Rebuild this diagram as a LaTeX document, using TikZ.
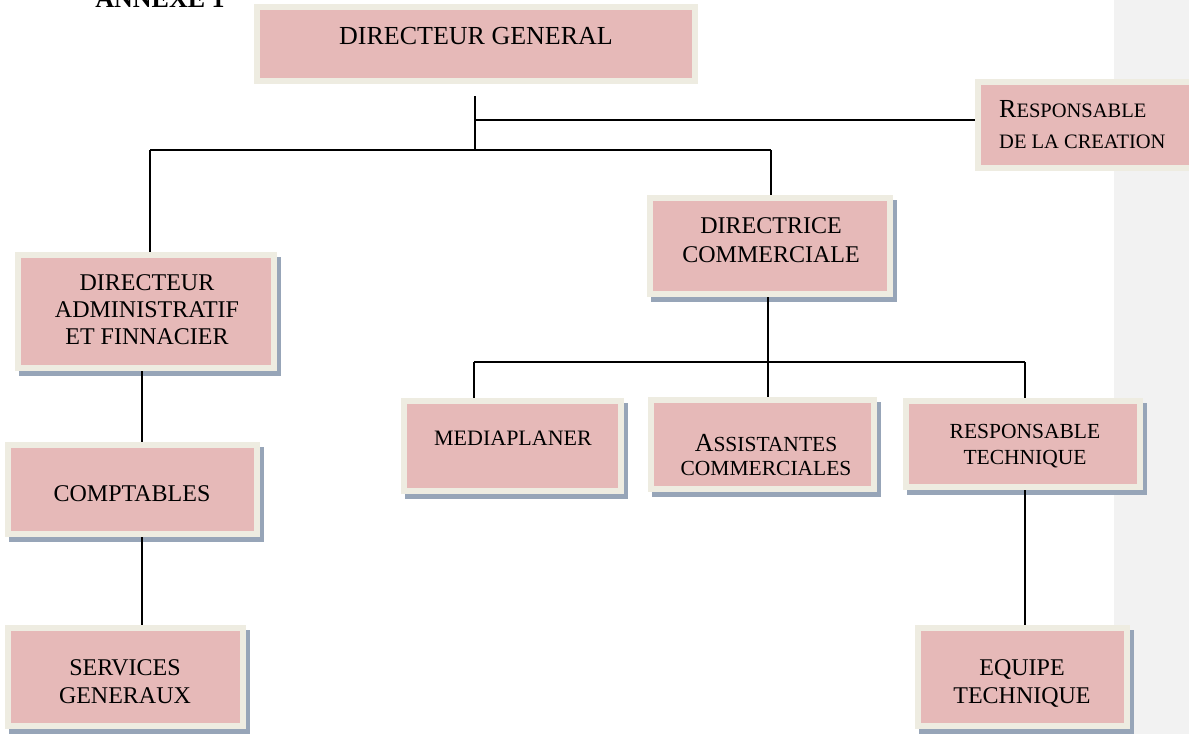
\documentclass[tikz,border=0pt]{standalone}
\usepackage{fontspec}
\setmainfont{Liberation Serif}
\definecolor{boxpink}{HTML}{E6B9B8}
\definecolor{boxcream}{HTML}{EEECE1}
\definecolor{boxshadow}{HTML}{97A5B8}
\definecolor{bandgrey}{HTML}{F2F2F2}
\newcommand{\fs}[2]{\fontsize{#1}{#2}\selectfont}
\begin{document}
\begin{tikzpicture}[x=1pt,y=-1pt,
  orgbox/.style={draw=boxcream, fill=boxpink, line width=6pt, inner sep=0pt, outer sep=3pt},
  shadowed/.style={preaction={draw=boxshadow, fill=boxshadow, line width=6pt,
      transform canvas={xshift=4pt,yshift=-5pt}}},
  lbl/.style={inner sep=0pt, align=center, anchor=north, text=black},
  conn/.style={draw=black, line width=1.2pt}]
\useasboundingbox (0,0) rectangle (1189,734);
\clip (0,0) rectangle (1189,734);
\fill[bandgrey] (1114,0) rectangle (1189,734);
\node[font=\bfseries\fs{26}{30}, anchor=base, inner sep=0pt] (annexe) at (160,7) {ANNEXE 1};
% boxes
\node[orgbox, minimum width=438pt, minimum height=74pt] (DG) at (476,44) {};
\node[orgbox, minimum width=219pt, minimum height=86pt] (RC) at (1087.5,125) {};
\node[orgbox, shadowed, minimum width=256pt, minimum height=113pt] (DAF) at (146,311.5) {};
\node[orgbox, shadowed, minimum width=249pt, minimum height=89pt] (COMP) at (132.5,489.5) {};
\node[orgbox, shadowed, minimum width=235pt, minimum height=98pt] (SG) at (125.5,677) {};
\node[orgbox, shadowed, minimum width=240pt, minimum height=96pt] (DC) at (770,246) {};
\node[orgbox, shadowed, minimum width=217pt, minimum height=90pt] (MED) at (512.5,446) {};
\node[orgbox, shadowed, minimum width=223pt, minimum height=89pt] (ASS) at (762.5,444.5) {};
\node[orgbox, shadowed, minimum width=234pt, minimum height=86pt] (RT) at (1023,444) {};
\node[orgbox, shadowed, minimum width=209pt, minimum height=98pt] (EQ) at (1022.5,677) {};
% labels
\node[lbl, font=\fs{26}{30}] (tDG) at (476,27) {DIRECTEUR GENERAL};
\node[lbl, align=left, anchor=north west, font=\fs{20.5}{31}] (tRC) at (999,100)
  {{\fs{26}{31}R}ESPONSABLE\\DE LA CREATION};
\node[lbl, font=\fs{24}{27}] (tDAF) at (147,274.3) {DIRECTEUR\\ADMINISTRATIF\\ET FINNACIER};
\node[lbl, font=\fs{24}{28}] (tCOMP) at (132,485.3) {COMPTABLES};
\node[lbl, font=\fs{24}{28}] (tSG) at (125,659.3) {SERVICES\\GENERAUX};
\node[lbl, font=\fs{24}{29}] (tDC) at (771,217.3) {DIRECTRICE\\COMMERCIALE};
\node[lbl, font=\fs{22}{26}] (tMED) at (513,430.6) {MEDIAPLANER};
\node[lbl, font=\fs{21.5}{24}] (tASS) at (766,434) {{\fs{26}{24}A}SSISTANTES\\COMMERCIALES};
\node[lbl, font=\fs{21.5}{26}] (tRT) at (1025,423.9) {RESPONSABLE\\TECHNIQUE};
\node[lbl, font=\fs{24}{28}] (tEQ) at (1022,659.3) {EQUIPE\\TECHNIQUE};
% connector points
\coordinate (c0) at (475,96);
\coordinate (j1) at (475,120);
\coordinate (j2) at (475,150);
\coordinate (jL) at (150,150);
\coordinate (jR) at (771,150);
\coordinate (xl) at (142,0);
\coordinate (jm) at (768,362);
\coordinate (ja) at (474,362);
\coordinate (jb) at (1025,362);
\coordinate (xr) at (1025,0);
% connectors
\draw[conn] (c0) -- (j2);
\draw[conn] (j1) -- (j1 -| RC.west);
\draw[conn] (jL) -- (jR);
\draw[conn] (jL) -- (jL |- DAF.north);
\draw[conn] (jR) -- (jR |- DC.north);
\draw[conn] (xl |- DAF.south) -- (xl |- COMP.north);
\draw[conn] (xl |- COMP.south) -- (xl |- SG.north);
\draw[conn] (jm |- DC.south) -- (jm |- ASS.north);
\draw[conn] (ja) -- (jb);
\draw[conn] (ja) -- (ja |- MED.north);
\draw[conn] (jb) -- (jb |- RT.north);
\draw[conn] (xr |- RT.south) -- (xr |- EQ.north);
\end{tikzpicture}
\end{document}
